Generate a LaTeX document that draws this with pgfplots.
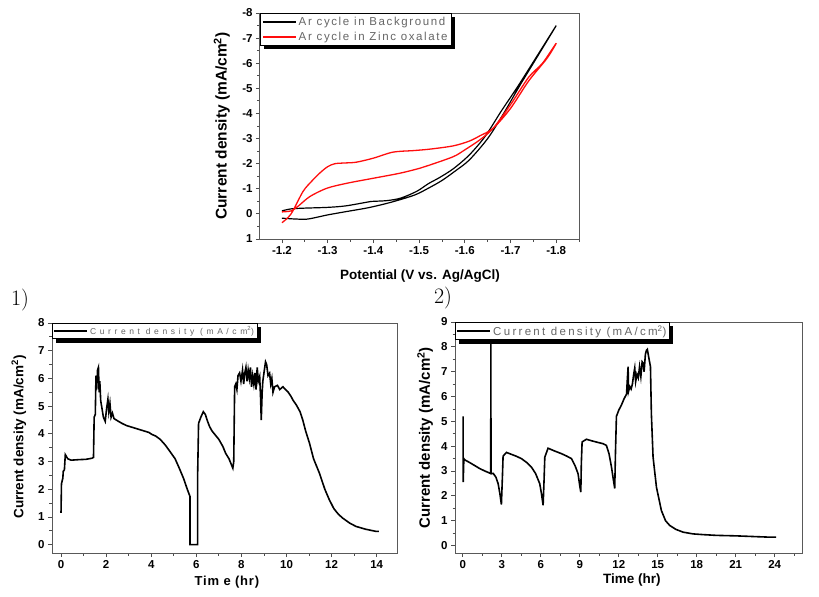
\documentclass[border=0pt]{standalone}
\usepackage{pgfplots}
\pgfplotsset{compat=1.18}
\usepackage{fontspec}
\setsansfont{Liberation Sans}

\pgfplotsset{
  myaxis/.style={
    scale only axis, anchor=south west,
    axis line style={draw=black!65, line width=1bp},
    tick align=outside, tick pos=left,
    major tick length=4bp, minor tick length=2.5bp,
    every tick/.style={black!70, line width=0.8bp},
    ticklabel style={font=\sffamily\bfseries\fontsize{11.5bp}{13bp}\selectfont},
    /pgf/number format/assume math mode=true,
    label style={font=\sffamily\bfseries\fontsize{13.5bp}{15bp}\selectfont},
    legend cell align=left,
    legend style={at={(0,1)}, anchor=north west, draw=black, line width=0.9bp, fill=white,
      inner sep=1.5bp, row sep=1bp, text=black!60},
    legend image code/.code={\draw[##1, line width=1.8bp] (0bp,0bp) -- (33bp,0bp);},
  }
}
\newcommand\legshadow[1]{%
  \fill[black] ([xshift=3.5bp,yshift=-3.5bp]#1.south west) rectangle ([xshift=3.5bp]#1.south east);
  \fill[black] ([yshift=-3.5bp]#1.north east) rectangle ([xshift=3.5bp]#1.south east);}

\begin{document}
\begin{tikzpicture}
\path[use as bounding box] (0bp,0bp) rectangle (819bp,-597bp);

% ---------------- top: CV ----------------
\begin{axis}[myaxis, at={(260bp,-239bp)}, width=320bp, height=226bp,
  x dir=reverse, y dir=reverse,
  xmin=-1.852, xmax=-1.152, ymin=-8, ymax=1,
  xtick={-1.2,-1.3,-1.4,-1.5,-1.6,-1.7,-1.8},
  minor xtick={-1.25,-1.35,-1.45,-1.55,-1.65,-1.75,-1.85},
  ytick={-8,-7,-6,-5,-4,-3,-2,-1,0,1},
  minor ytick={-7.5,-6.5,-5.5,-4.5,-3.5,-2.5,-1.5,-0.5,0.5},
  xticklabel style={/pgf/number format/fixed, /pgf/number format/precision=1, /pgf/number format/fixed zerofill},
  xlabel={Potential (V vs. Ag/AgCl)},
  ylabel={Current density (mA/cm\textsuperscript{2})},
  ylabel style={at={(axis description cs:-0.119,0.5)}, anchor=center, font=\sffamily\bfseries\fontsize{15.5bp}{17bp}\selectfont},
  xlabel style={at={(axis description cs:0.5,-0.164)}, anchor=center},
  legend style={name=legA, font=\sffamily\fontsize{11.5bp}{12bp}\selectfont\addfontfeatures{LetterSpace=14}},
]
\addplot[black, line width=1.2bp, smooth] coordinates {
(-1.20,0.17) (-1.225,0.20) (-1.254,0.21) (-1.28,0.12) (-1.30,0.04) (-1.34,-0.09)
(-1.39,-0.25) (-1.44,-0.47) (-1.49,-0.75) (-1.52,-1.02) (-1.55,-1.33) (-1.58,-1.72)
(-1.61,-2.15) (-1.65,-3.0) (-1.685,-4.0) (-1.72,-5.1) (-1.76,-6.3) (-1.80,-7.5)
(-1.755,-6.2) (-1.715,-5.05) (-1.68,-4.1) (-1.645,-3.1) (-1.61,-2.35) (-1.575,-1.8)
(-1.545,-1.45) (-1.52,-1.2) (-1.495,-0.9) (-1.46,-0.63) (-1.43,-0.53) (-1.40,-0.5)
(-1.39,-0.48) (-1.34,-0.32) (-1.30,-0.26) (-1.25,-0.23) (-1.22,-0.2) (-1.20,-0.12)
};
\addlegendentry{Ar cycle in Background}
\addplot[red!95!white, line width=1.3bp, smooth] coordinates {
(-1.20,0.35) (-1.22,0.0) (-1.246,-0.89) (-1.265,-1.3) (-1.283,-1.63) (-1.30,-1.88)
(-1.316,-2.0) (-1.34,-2.03) (-1.363,-2.06) (-1.40,-2.22) (-1.443,-2.46) (-1.487,-2.52)
(-1.524,-2.58) (-1.575,-2.71) (-1.61,-2.9) (-1.633,-3.11) (-1.662,-3.41) (-1.70,-4.2)
(-1.74,-5.3) (-1.78,-6.2) (-1.80,-6.8)
(-1.77,-6.0) (-1.74,-5.45) (-1.70,-4.35) (-1.662,-3.41) (-1.633,-2.95) (-1.60,-2.55)
(-1.575,-2.28) (-1.524,-1.95) (-1.502,-1.82) (-1.458,-1.62) (-1.40,-1.42) (-1.342,-1.22)
(-1.298,-1.02) (-1.261,-0.69) (-1.235,-0.3) (-1.22,-0.12) (-1.20,-0.08)
};
\addlegendentry{Ar cycle in Zinc oxalate}
\end{axis}
\legshadow{legA}

\node[font=\fontsize{22bp}{23bp}\selectfont] at (20bp,-300bp) {1)};
\node[font=\fontsize{22bp}{23bp}\selectfont] at (443bp,-298bp) {2)};

% ---------------- panel 1 ----------------
\begin{axis}[myaxis, at={(52bp,-553bp)}, width=345bp, height=230bp,
  xmin=-0.4, xmax=14.9, ymin=-0.3, ymax=8,
  xtick={0,2,...,14}, minor xtick={1,3,...,13},
  ytick={0,1,...,8}, minor ytick={0.5,1.5,...,7.5},
  xlabel={Tim e (hr)},
  ylabel={Current density (mA/cm\textsuperscript{2})},
  xlabel style={at={(axis description cs:0.507,-0.126)}, anchor=center, font=\sffamily\bfseries\fontsize{13bp}{14bp}\selectfont\addfontfeatures{LetterSpace=6}},
  ylabel style={at={(axis description cs:-0.096,0.504)}, anchor=center, font=\sffamily\bfseries\fontsize{13.5bp}{15bp}\selectfont},
  legend style={name=legB, font=\sffamily\fontsize{8.5bp}{9bp}\selectfont\addfontfeatures{LetterSpace=42}, row sep=0bp, inner sep=1bp},
]
\addplot[black, line width=1.6bp] coordinates {
(0.00,1.15) (0.02,2.2) (0.08,2.4) (0.10,2.65) (0.15,2.7) (0.19,3.25) (0.30,3.1) (0.45,3.05)
(0.8,3.07) (1.1,3.08) (1.37,3.12) (1.44,3.15) (1.47,4.6) (1.52,4.7) (1.55,6.1) (1.58,5.6)
(1.62,6.3) (1.66,6.4) (1.69,5.5) (1.72,5.9) (1.76,5.2) (1.82,4.9) (1.88,4.6) (1.96,4.45)
(2.02,4.9) (2.08,5.25) (2.12,4.8) (2.17,5.1) (2.22,4.6) (2.28,4.75) (2.35,4.55) (2.45,4.5)
(2.55,4.45) (2.7,4.38) (2.9,4.3) (3.1,4.25) (3.3,4.2) (3.5,4.15) (3.7,4.1) (3.9,4.05)
(4.03,3.98) (4.2,3.92) (4.4,3.8) (4.62,3.6) (4.8,3.4) (5.06,3.1) (5.25,2.75) (5.43,2.4)
(5.6,2.0) (5.72,1.74) (5.72,0) (6.06,0) (6.06,2.58) (6.10,4.38) (6.2,4.6) (6.31,4.8)
(6.4,4.7) (6.5,4.45) (6.59,4.26) (6.7,4.1) (6.8,4.0) (6.9,3.9) (7.0,3.8) (7.18,3.54)
(7.3,3.3) (7.45,3.1) (7.55,2.9) (7.62,2.76) (7.66,3.0) (7.70,5.7) (7.75,5.8) (7.8,5.6)
(7.85,6.1) (7.92,6.2) (7.98,5.9) (8.05,6.3) (8.1,5.8) (8.15,6.2) (8.2,6.4) (8.25,5.9)
(8.3,6.3) (8.35,6.0) (8.4,6.4) (8.45,5.7) (8.5,6.1) (8.55,5.8) (8.6,6.2) (8.65,5.6)
(8.7,6.4) (8.75,5.9) (8.81,6.07) (8.85,5.3) (8.88,4.5) (8.92,5.5) (8.95,5.9) (9.0,6.2)
(9.07,6.6) (9.12,6.5) (9.18,6.1) (9.25,6.19) (9.3,5.8) (9.35,6.0) (9.4,5.5) (9.47,5.7)
(9.6,5.75) (9.7,5.6) (9.84,5.7) (9.95,5.6) (10.06,5.52) (10.2,5.35) (10.3,5.2) (10.43,5.05)
(10.6,4.8) (10.72,4.5) (10.85,4.1) (11.02,3.66) (11.2,3.1) (11.46,2.58) (11.7,2.0) (11.9,1.62)
(12.1,1.3) (12.3,1.1) (12.49,0.96) (12.8,0.78) (13.08,0.66) (13.5,0.56) (13.97,0.48) (14.1,0.48)
};
\addlegendentry{Current density (mA/cm\textsuperscript{2})}
\end{axis}
\legshadow{legB}

% ---------------- panel 2 ----------------
\begin{axis}[myaxis, at={(455bp,-553bp)}, width=347bp, height=231bp,
  xmin=-0.6, xmax=26.1, ymin=-0.3, ymax=9,
  xtick={0,3,...,24}, minor xtick={1.5,4.5,...,25.5},
  ytick={0,1,...,9}, minor ytick={0.5,1.5,...,8.5},
  xlabel={Time (hr)},
  ylabel={Current density (mA/cm\textsuperscript{2})},
  xlabel style={at={(axis description cs:0.51,-0.117)}, anchor=center, font=\sffamily\bfseries\fontsize{13.5bp}{15bp}\selectfont},
  ylabel style={at={(axis description cs:-0.086,0.498)}, anchor=center, font=\sffamily\bfseries\fontsize{15bp}{16bp}\selectfont},
  legend style={name=legC, font=\sffamily\fontsize{11.5bp}{12bp}\selectfont\addfontfeatures{LetterSpace=20}, row sep=0bp, inner sep=1bp},
]
\addplot[black, line width=1.6bp] coordinates {
(0.03,5.2) (0.03,2.55) (0.08,3.5) (0.15,3.45) (0.5,3.35) (0.92,3.22) (1.3,3.1) (1.7,3.0)
(2.15,2.9) (2.16,8.15) (2.17,2.9) (2.35,2.9) (2.55,2.75) (2.72,2.49) (2.85,2.1) (2.97,1.65)
(3.05,2.8) (3.1,3.6) (3.36,3.75) (3.7,3.68) (4.1,3.6) (4.51,3.5) (4.9,3.35) (5.28,3.16)
(5.6,2.9) (5.92,2.49) (6.05,2.1) (6.18,1.62) (6.25,2.6) (6.31,3.56) (6.56,3.92) (7.0,3.82)
(7.59,3.7) (8.0,3.6) (8.36,3.5) (8.65,3.2) (8.87,2.89) (9.0,2.4) (9.08,2.15) (9.12,3.3)
(9.18,4.17) (9.51,4.28) (9.9,4.22) (10.41,4.15) (10.8,4.1) (11.05,4.03) (11.25,3.7) (11.44,3.16)
(11.6,2.6) (11.69,2.3) (11.75,3.8) (11.82,5.2) (12.0,5.45) (12.2,5.65) (12.4,5.9) (12.6,6.1)
(12.65,6.6) (12.72,7.2) (12.75,6.2) (12.85,6.4) (12.95,6.3) (13.05,6.5) (13.15,6.9) (13.23,7.15)
(13.3,6.6) (13.4,6.9) (13.5,6.75) (13.6,7.2) (13.7,6.8) (13.8,7.4) (13.87,7.35) (13.95,7.0)
(14.05,7.7) (14.13,7.86) (14.2,7.9) (14.3,7.6) (14.44,7.2) (14.51,5.3) (14.64,3.56) (14.9,2.35)
(15.28,1.41) (15.6,1.0) (15.92,0.81) (16.4,0.65) (16.95,0.54) (17.7,0.47) (18.5,0.44) (19.5,0.41)
(21.05,0.39) (22.5,0.36) (23.5,0.34) (24.1,0.34)
};
\addlegendentry{Current density (mA/cm\textsuperscript{2})}
\end{axis}
\legshadow{legC}
\end{tikzpicture}
\end{document}
